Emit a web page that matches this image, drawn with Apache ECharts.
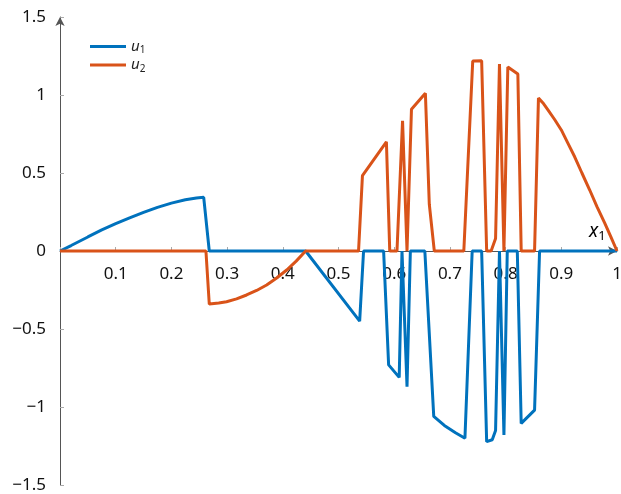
<!DOCTYPE html>
<html>
<head>
<meta charset="utf-8">
<script src="https://cdn.jsdelivr.net/npm/echarts@6/dist/echarts.min.js"></script>
<style>html,body{margin:0;padding:0;background:#fff}#c{width:621px;height:494px}</style>
</head>
<body>
<div id="c"></div>
<script>
var u1 = [
  [0,0],[0.02,0.035],[0.05,0.09],[0.075,0.135],[0.1,0.175],[0.125,0.212],[0.15,0.247],[0.175,0.28],[0.2,0.307],[0.225,0.328],[0.245,0.34],[0.258,0.344],
  [0.268,0],[0.441,0],[0.538,-0.45],[0.545,0],[0.581,0],[0.590,-0.73],[0.609,-0.81],[0.614,0],[0.623,-0.87],[0.629,0],[0.655,0],
  [0.671,-1.06],[0.69,-1.118],[0.71,-1.165],[0.727,-1.20],[0.740,0],[0.757,0],[0.766,-1.222],[0.776,-1.21],[0.782,-1.15],[0.789,0],
  [0.797,-1.18],[0.803,0],[0.821,0],[0.828,-1.105],[0.852,-1.02],[0.861,0],[1,0]
];
var u2 = [
  [0,0],[0.262,0],[0.268,-0.34],[0.285,-0.333],[0.299,-0.325],[0.317,-0.307],[0.335,-0.282],[0.353,-0.253],[0.371,-0.218],[0.389,-0.173],
  [0.407,-0.122],[0.424,-0.065],[0.441,0],[0.536,0],[0.543,0.483],[0.586,0.70],[0.592,0],[0.605,0],[0.615,0.835],[0.623,0],[0.631,0.908],
  [0.656,1.011],[0.663,0.3],[0.672,0],[0.725,0],[0.741,1.218],[0.757,1.22],[0.766,0],[0.774,0],[0.782,0.08],[0.789,1.199],[0.797,0],
  [0.804,1.18],[0.822,1.135],[0.828,0],[0.852,0],[0.859,0.98],[0.868,0.945],[0.876,0.905],[0.888,0.843],[0.900,0.776],[0.912,0.69],
  [0.924,0.604],[0.937,0.50],[0.951,0.391],[0.964,0.285],[0.978,0.178],[0.989,0.09],[1,0]
];
var seriesNames = ['u1', 'u2'];
var xTicks = {min: 0, max: 1, step: 0.1};
var yTicks = {min: -1.5, max: 1.5, step: 0.5};

var FONT = '"Noto Sans", "Open Sans", sans-serif';
var chart = echarts.init(document.getElementById('c'), null, {renderer: 'canvas'});
function fmtNum(v) {
  var s = String(Math.round(v * 10) / 10);
  return s.replace('-', '\u2212');
}
var sub = {
  a: {fontFamily: FONT, fontStyle: 'italic', fontSize: 15, color: '#222'},
  b: {fontFamily: FONT, fontSize: 10, color: '#222', padding: [8, 0, 0, 0]}
};
chart.setOption({
  animation: false,
  color: ['#0072BD', '#D95319'],
  grid: {left: 60, right: 4, top: 17, bottom: 9, containLabel: false, outerBoundsMode: 'none'},
  legend: {
    orient: 'vertical', left: 85, top: 34, itemWidth: 36, itemHeight: 3, itemGap: 2,
    icon: 'rect',
    data: seriesNames,
    formatter: function (n) { return '{a|u}{b|' + n.slice(1) + '}'; },
    textStyle: {rich: sub}
  },
  xAxis: {
    type: 'value', min: xTicks.min, max: xTicks.max, interval: xTicks.step, position: 'bottom',
    axisLine: {onZero: false, lineStyle: {color: '#555', width: 1}, symbol: ['none', 'arrow'], symbolSize: [7, 9]},
    axisTick: {inside: true, length: 4, lineStyle: {color: '#aaa'}},
    axisLabel: {margin: 15, fontFamily: FONT, fontSize: 17, color: '#111',
      formatter: function (v) { return v === 0 ? '' : fmtNum(v); }},
    splitLine: {show: false}
  },
  yAxis: {
    type: 'value', min: yTicks.min, max: yTicks.max, interval: yTicks.step,
    axisLine: {onZero: false, lineStyle: {color: '#555', width: 1}, symbol: ['none', 'arrow'], symbolSize: [7, 9]},
    axisTick: {show: true, inside: true, length: 4, lineStyle: {color: '#aaa'}},
    axisLabel: {margin: 14, fontFamily: FONT, fontSize: 17, color: '#111', formatter: fmtNum},
    splitLine: {show: false}
  },
  graphic: [{
    type: 'text', left: 589, top: 222,
    style: {text: '{a|x}{b|1}', rich: {
      a: {fontFamily: FONT, fontStyle: 'italic', fontSize: 19, color: '#111'},
      b: {fontFamily: FONT, fontSize: 13, color: '#111', padding: [9, 0, 0, 0]}
    }}
  }],
  series: [
    {name: 'u1', type: 'line', data: u1, showSymbol: false, lineStyle: {width: 3}, z: 3},
    {name: 'u2', type: 'line', data: u2, showSymbol: false, lineStyle: {width: 3}, z: 3}
  ]
});
// move the x axis up to y = 0 using the library's own y scale
var pZero = chart.convertToPixel({yAxisIndex: 0}, 0);
var pMin = chart.convertToPixel({yAxisIndex: 0}, yTicks.min);
chart.setOption({xAxis: {offset: -(pMin - pZero)}});
</script>
</body>
</html>
